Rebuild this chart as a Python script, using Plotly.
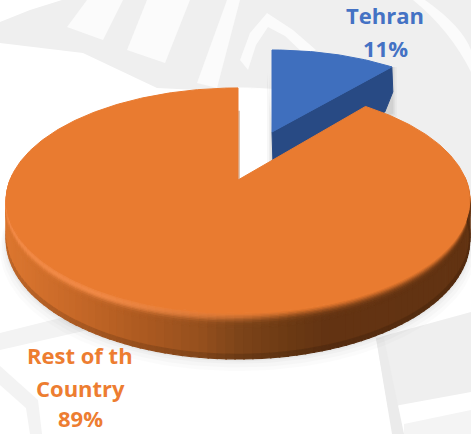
import numpy as np
import plotly.graph_objects as go

# ---- data ----
categories = ["Tehran", "Rest of the Country"]
values = [11, 89]
label_lines = [["Tehran", "11%"], ["Rest of th", "Country", "89%"]]

# ---- style ----
BLUE_TOP, BLUE_SIDE = "#3f6fbe", "#284a84"
ORANGE_TOP = "#e97b30"
BLUE_TXT, ORANGE_TXT = "#4472c4", "#ed7d31"
FONT = "Open Sans"

W, H = 471, 434
CX, CY, RX, RY, K, DEPTH = 238, 180, 228, 108.8, 0.182, 37.6
B_CX, B_CY, B_RX, B_RY, B_K, B_DEPTH = 272, 132, 209, 93.9, 0.145, 33


def proj(a, r=1.0, z=0.0, cx=CX, cy=CY, rx=RX, ry=RY, k=K):
    s, c = r * np.sin(a), r * np.cos(a)
    w = 1 + k * s
    return cx + rx * c / w, cy - (ry * s - z) / w


def poly(xs, ys, color, line=None, width=1):
    return go.Scatter(x=list(xs), y=list(ys), mode="lines", fill="toself", fillcolor=color,
                      line=dict(color=line or color, width=width), hoverinfo="skip", showlegend=False)


frac = values[0] / sum(values)
a_top = np.pi / 2
a_cut = a_top - 2 * np.pi * frac

fig = go.Figure()

# soft shadow under the disc
full = np.linspace(0, 2 * np.pi, 240)
for grow, alpha in [(10, .016), (7, .02), (4, .025), (2, .03)]:
    sx, sy = proj(full, z=DEPTH + grow, rx=RX + grow * .6)
    fig.add_trace(poly(sx, sy, f"rgba(0,0,0,{alpha})", line="rgba(0,0,0,0)", width=0))

# the notch left by the exploded slice stays clean
notch = np.linspace(a_cut, a_top, 40)
nx, ny = proj(notch)
fig.add_trace(poly(np.r_[CX, nx, CX], np.r_[CY, ny, CY], "white"))

# exploded Tehran slice: cut wall, then top
bkw = dict(cx=B_CX, cy=B_CY, rx=B_RX, ry=B_RY, k=B_K)
x0, y0 = proj(0.0, r=0, **bkw)
x1, y1 = proj(a_cut, **bkw)
for off, alpha in [(5, .03), (3, .04), (1.5, .05)]:
    fig.add_trace(poly([x0 - off, x0 - off, x0, x1 + off, x1 + off, x1 - 6, x0],
                       [y0 - 60, y0 + B_DEPTH, y0 + B_DEPTH + off, y1 + B_DEPTH + 12 + off, y1, y1, y0],
                       f"rgba(0,0,0,{alpha})", line="rgba(0,0,0,0)", width=0))
fig.add_trace(poly([x0, x1, x1 + 1, x1 - 7, x0 + 1, x0],
                   [y0, y1, y1 + B_DEPTH - 8, y1 + B_DEPTH + 12, y0 + B_DEPTH, y0], BLUE_SIDE))
arc = np.linspace(a_cut, a_top, 50)
ax, ay = proj(arc, **bkw)
fig.add_trace(poly(np.r_[x0, ax, x0], np.r_[y0, ay, y0], BLUE_TOP))

# inner wall sliver of the notch
nx, ny = proj(a_top, r=.72)
fig.add_trace(go.Scatter(x=[nx + 1, CX + 1], y=[ny, CY], mode="lines", line=dict(color="#b98a68", width=1),
                         hoverinfo="skip", showlegend=False))

# orange outer wall with shading across and down
stop_x = [0, 60, 130, 200, 240, 290, 325, 471]
stop_c = np.array([(222, 120, 48), (204, 108, 42), (178, 93, 34), (150, 80, 30),
                   (125, 68, 25), (108, 58, 20), (100, 52, 19), (98, 51, 18)], float)
segs = np.linspace(np.pi * .985, 2 * np.pi + .02, 101)
z_edges = [0, .03, .06, .09, .12, .15, .18, .22, .27, .33, .9, 1.0]
top_rgb = np.array((233, 123, 48), float)
hl_rgb = np.array((245, 142, 76), float)
for a0, a1 in zip(segs[:-1], segs[1:]):
    sub = np.linspace(a0, a1 + .004, 3)
    mx = proj((a0 + a1) / 2)[0]
    base = np.array([np.interp(mx, stop_x, stop_c[:, i]) for i in range(3)])
    left = np.clip((300 - mx) / 200, 0, 1)
    for z0, z1 in zip(z_edges[:-1], z_edges[1:]):
        zm = (z0 + z1) / 2
        col = base + (top_rgb - base) * np.exp(-(zm / .13) ** 2)
        col = col + (hl_rgb - col) * np.exp(-((zm - .1) / .09) ** 2) * left * .85
        if z0 >= .9:
            col = col * .86
        c = "rgb(%d,%d,%d)" % tuple(col)
        tx, ty = proj(sub, z=DEPTH * z0)
        bx, by = proj(sub[::-1], z=DEPTH * z1)
        fig.add_trace(poly(np.r_[tx, bx], np.r_[ty, by], c, width=1.2))

# orange top face
arc = np.linspace(a_cut, a_top - 2 * np.pi, 400)
ax, ay = proj(arc)
fig.add_trace(poly(np.r_[CX, ax, CX], np.r_[CY, ay, CY], ORANGE_TOP))

# labels
annos = []
centres = [(385, [15, 48]), (80, [355, 388, 418])]
colors = [BLUE_TXT, ORANGE_TXT]
for lines, (lx, lys), col in zip(label_lines, centres, colors):
    for t, ly in zip(lines, lys):
        annos.append(dict(x=lx, y=ly, text=f"<b>{t}</b>", showarrow=False, xanchor="center", yanchor="middle",
                          font=dict(family=FONT, size=22, color=col)))

# pale watermark behind the chart
G, W2 = "#efefef", "#fbfbfb"
wm = [
    ("M0,22 L30,10 L62,0 L471,0 L471,200 L440,170 L400,120 L300,95 L157,88 L83,53 L0,43 Z", G),
    ("M67,27 L103,40 L123,0 L87,0 Z", W2),
    ("M127,50 L165,63 L190,0 L147,0 Z", W2),
    ("M197,83 L217,88 L240,0 L227,0 Z", W2),
    ("M240,60 L250,33 L267,13 L293,30 L316,50 L306,56 L285,36 L268,27 L256,45 L248,70 Z", W2),
    ("M413,0 L425,0 Q462,26 471,50 L471,72 Q450,30 413,0 Z", W2),
    ("M376,338 L471,312 L471,392 L400,405 L388,408 Z", G),
    ("M376,338 L384,338 L404,434 L392,434 Z", "#ebebeb"),
    ("M404,424 L471,410 L471,434 L404,434 Z", "#f4f4f4"),
    ("M0,333 L60,318 L110,325 L0,350 Z", "#f3f3f3"),
    ("M0,366 L38,400 L42,434 L30,434 L26,408 L0,385 Z", "#f3f3f3"),
]
shapes = [dict(type="path", path=p, fillcolor=c, line=dict(width=0), layer="below", xref="x", yref="y")
          for p, c in wm]

fig.update_layout(width=W, height=H, margin=dict(l=0, r=0, t=0, b=0), paper_bgcolor="white", plot_bgcolor="white",
                  showlegend=False, annotations=annos, shapes=shapes,
                  xaxis=dict(range=[0, W], visible=False, fixedrange=True),
                  yaxis=dict(range=[H, 0], visible=False, fixedrange=True))
fig.write_html("out.html", config={"displayModeBar": False, "staticPlot": True},
               post_script="document.body.style.margin='0';document.body.style.overflow='hidden';")
